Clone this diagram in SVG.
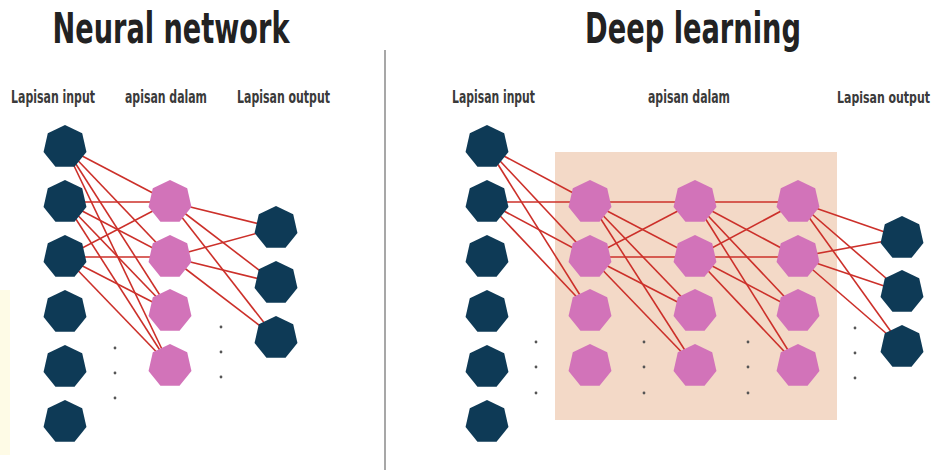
<svg xmlns="http://www.w3.org/2000/svg" xmlns:xlink="http://www.w3.org/1999/xlink" width="940" height="470" viewBox="0 0 940 470">
<style>
.title{font-family:"Liberation Sans Narrow","DejaVu Sans Condensed","Liberation Sans",sans-serif;font-weight:bold;font-size:42px;fill:#222;}
.lbl{font-family:"Liberation Sans Narrow","DejaVu Sans Condensed","Liberation Sans",sans-serif;font-weight:bold;font-size:17px;fill:#3a3a3a;}
.edge{stroke:#cc302a;stroke-width:1.6;fill:none;}
.navy{fill:#0e3a56;}
.pink{fill:#d273b9;}
.dot{fill:#555;}
</style>
<defs>
<polygon id="hep" points="0,-22 17.2,-13.72 21.45,4.9 9.55,19.82 -9.55,19.82 -21.45,4.9 -17.2,-13.72"/>
</defs>
<rect width="940" height="470" fill="#fff"/>
<rect x="0" y="290" width="10" height="165" fill="#fefbe6"/>
<line x1="385" y1="50" x2="385" y2="470" stroke="#8a8a8a" stroke-width="1.5"/>
<text class="title" x="171" y="43" text-anchor="middle" textLength="237" lengthAdjust="spacingAndGlyphs">Neural network</text>
<text class="title" x="693" y="43" text-anchor="middle" textLength="216" lengthAdjust="spacingAndGlyphs">Deep learning</text>
<text class="lbl" x="11" y="103" textLength="84" lengthAdjust="spacingAndGlyphs">Lapisan input</text>
<text class="lbl" x="125" y="103" textLength="82" lengthAdjust="spacingAndGlyphs">apisan dalam</text>
<text class="lbl" x="237" y="103" textLength="93" lengthAdjust="spacingAndGlyphs">Lapisan output</text>
<text class="lbl" x="452" y="103" textLength="83" lengthAdjust="spacingAndGlyphs">Lapisan input</text>
<text class="lbl" x="648" y="103" textLength="82" lengthAdjust="spacingAndGlyphs">apisan dalam</text>
<text class="lbl" x="930" y="103" text-anchor="end" style="font-size:16px" textLength="93" lengthAdjust="spacingAndGlyphs">Lapisan output</text>
<rect x="555" y="152" width="282" height="268" fill="#f3d9c7"/>
<g id="connectors">
<line class="edge" x1="65" y1="147" x2="170" y2="202"/>
<line class="edge" x1="65" y1="147" x2="170" y2="257"/>
<line class="edge" x1="65" y1="147" x2="170" y2="311"/>
<line class="edge" x1="65" y1="147" x2="170" y2="366"/>
<line class="edge" x1="65" y1="202" x2="170" y2="202"/>
<line class="edge" x1="65" y1="202" x2="170" y2="257"/>
<line class="edge" x1="65" y1="202" x2="170" y2="311"/>
<line class="edge" x1="65" y1="202" x2="170" y2="366"/>
<line class="edge" x1="65" y1="257" x2="170" y2="202"/>
<line class="edge" x1="65" y1="257" x2="170" y2="257"/>
<line class="edge" x1="65" y1="257" x2="170" y2="311"/>
<line class="edge" x1="65" y1="257" x2="170" y2="366"/>
<line class="edge" x1="170" y1="202" x2="276" y2="228"/>
<line class="edge" x1="170" y1="202" x2="276" y2="283"/>
<line class="edge" x1="170" y1="202" x2="276" y2="338"/>
<line class="edge" x1="170" y1="257" x2="276" y2="228"/>
<line class="edge" x1="170" y1="257" x2="276" y2="283"/>
<line class="edge" x1="170" y1="257" x2="276" y2="338"/>
<line class="edge" x1="487" y1="147" x2="590" y2="202"/>
<line class="edge" x1="487" y1="147" x2="590" y2="257"/>
<line class="edge" x1="487" y1="147" x2="590" y2="311"/>
<line class="edge" x1="487" y1="202" x2="590" y2="202"/>
<line class="edge" x1="487" y1="202" x2="590" y2="257"/>
<line class="edge" x1="487" y1="202" x2="590" y2="311"/>
<line class="edge" x1="590" y1="202" x2="695" y2="202"/>
<line class="edge" x1="590" y1="202" x2="695" y2="257"/>
<line class="edge" x1="590" y1="202" x2="695" y2="311"/>
<line class="edge" x1="590" y1="202" x2="695" y2="366"/>
<line class="edge" x1="590" y1="257" x2="695" y2="202"/>
<line class="edge" x1="590" y1="257" x2="695" y2="257"/>
<line class="edge" x1="590" y1="257" x2="695" y2="311"/>
<line class="edge" x1="590" y1="257" x2="695" y2="366"/>
<line class="edge" x1="695" y1="202" x2="798" y2="202"/>
<line class="edge" x1="695" y1="202" x2="798" y2="257"/>
<line class="edge" x1="695" y1="202" x2="798" y2="311"/>
<line class="edge" x1="695" y1="202" x2="798" y2="366"/>
<line class="edge" x1="695" y1="257" x2="798" y2="202"/>
<line class="edge" x1="695" y1="257" x2="798" y2="257"/>
<line class="edge" x1="695" y1="257" x2="798" y2="311"/>
<line class="edge" x1="695" y1="257" x2="798" y2="366"/>
<line class="edge" x1="798" y1="202" x2="902" y2="238"/>
<line class="edge" x1="798" y1="202" x2="902" y2="292"/>
<line class="edge" x1="798" y1="202" x2="902" y2="347"/>
<line class="edge" x1="798" y1="257" x2="902" y2="238"/>
<line class="edge" x1="798" y1="257" x2="902" y2="292"/>
<line class="edge" x1="798" y1="257" x2="902" y2="347"/>
</g>
<g id="nn-in-1"><use xlink:href="#hep" href="#hep" class="navy" x="65" y="147"/></g>
<g id="nn-in-2"><use xlink:href="#hep" href="#hep" class="navy" x="65" y="202"/></g>
<g id="nn-in-3"><use xlink:href="#hep" href="#hep" class="navy" x="65" y="257"/></g>
<g id="nn-in-4"><use xlink:href="#hep" href="#hep" class="navy" x="65" y="312"/></g>
<g id="nn-in-5"><use xlink:href="#hep" href="#hep" class="navy" x="65" y="367"/></g>
<g id="nn-in-6"><use xlink:href="#hep" href="#hep" class="navy" x="65" y="422"/></g>
<g id="nn-h-1"><use xlink:href="#hep" href="#hep" class="pink" x="170" y="202"/></g>
<g id="nn-h-2"><use xlink:href="#hep" href="#hep" class="pink" x="170" y="257"/></g>
<g id="nn-h-3"><use xlink:href="#hep" href="#hep" class="pink" x="170" y="311"/></g>
<g id="nn-h-4"><use xlink:href="#hep" href="#hep" class="pink" x="170" y="366"/></g>
<g id="nn-out-1"><use xlink:href="#hep" href="#hep" class="navy" x="276" y="228"/></g>
<g id="nn-out-2"><use xlink:href="#hep" href="#hep" class="navy" x="276" y="283"/></g>
<g id="nn-out-3"><use xlink:href="#hep" href="#hep" class="navy" x="276" y="338"/></g>
<g id="nn-dots">
<circle class="dot" cx="115" cy="348" r="1.4"/><circle class="dot" cx="115" cy="373" r="1.4"/><circle class="dot" cx="115" cy="398" r="1.4"/>
<circle class="dot" cx="221" cy="327" r="1.4"/><circle class="dot" cx="221" cy="352" r="1.4"/><circle class="dot" cx="221" cy="377" r="1.4"/>
</g>
<g id="dl-in-1"><use xlink:href="#hep" href="#hep" class="navy" x="487" y="147"/></g>
<g id="dl-in-2"><use xlink:href="#hep" href="#hep" class="navy" x="487" y="202"/></g>
<g id="dl-in-3"><use xlink:href="#hep" href="#hep" class="navy" x="487" y="257"/></g>
<g id="dl-in-4"><use xlink:href="#hep" href="#hep" class="navy" x="487" y="312"/></g>
<g id="dl-in-5"><use xlink:href="#hep" href="#hep" class="navy" x="487" y="367"/></g>
<g id="dl-in-6"><use xlink:href="#hep" href="#hep" class="navy" x="487" y="422"/></g>
<g id="dl-h1-1"><use xlink:href="#hep" href="#hep" class="pink" x="590" y="202"/></g>
<g id="dl-h1-2"><use xlink:href="#hep" href="#hep" class="pink" x="590" y="257"/></g>
<g id="dl-h1-3"><use xlink:href="#hep" href="#hep" class="pink" x="590" y="311"/></g>
<g id="dl-h1-4"><use xlink:href="#hep" href="#hep" class="pink" x="590" y="366"/></g>
<g id="dl-h2-1"><use xlink:href="#hep" href="#hep" class="pink" x="695" y="202"/></g>
<g id="dl-h2-2"><use xlink:href="#hep" href="#hep" class="pink" x="695" y="257"/></g>
<g id="dl-h2-3"><use xlink:href="#hep" href="#hep" class="pink" x="695" y="311"/></g>
<g id="dl-h2-4"><use xlink:href="#hep" href="#hep" class="pink" x="695" y="366"/></g>
<g id="dl-h3-1"><use xlink:href="#hep" href="#hep" class="pink" x="798" y="202"/></g>
<g id="dl-h3-2"><use xlink:href="#hep" href="#hep" class="pink" x="798" y="257"/></g>
<g id="dl-h3-3"><use xlink:href="#hep" href="#hep" class="pink" x="798" y="311"/></g>
<g id="dl-h3-4"><use xlink:href="#hep" href="#hep" class="pink" x="798" y="366"/></g>
<g id="dl-out-1"><use xlink:href="#hep" href="#hep" class="navy" x="902" y="238"/></g>
<g id="dl-out-2"><use xlink:href="#hep" href="#hep" class="navy" x="902" y="292"/></g>
<g id="dl-out-3"><use xlink:href="#hep" href="#hep" class="navy" x="902" y="347"/></g>
<g id="dl-dots">
<circle class="dot" cx="536" cy="342" r="1.4"/><circle class="dot" cx="536" cy="367" r="1.4"/><circle class="dot" cx="536" cy="393" r="1.4"/>
<circle class="dot" cx="644" cy="342" r="1.4"/><circle class="dot" cx="644" cy="367" r="1.4"/><circle class="dot" cx="644" cy="393" r="1.4"/>
<circle class="dot" cx="748" cy="342" r="1.4"/><circle class="dot" cx="748" cy="367" r="1.4"/><circle class="dot" cx="748" cy="393" r="1.4"/>
<circle class="dot" cx="855" cy="328" r="1.4"/><circle class="dot" cx="855" cy="353" r="1.4"/><circle class="dot" cx="855" cy="378" r="1.4"/>
</g>
</svg>
